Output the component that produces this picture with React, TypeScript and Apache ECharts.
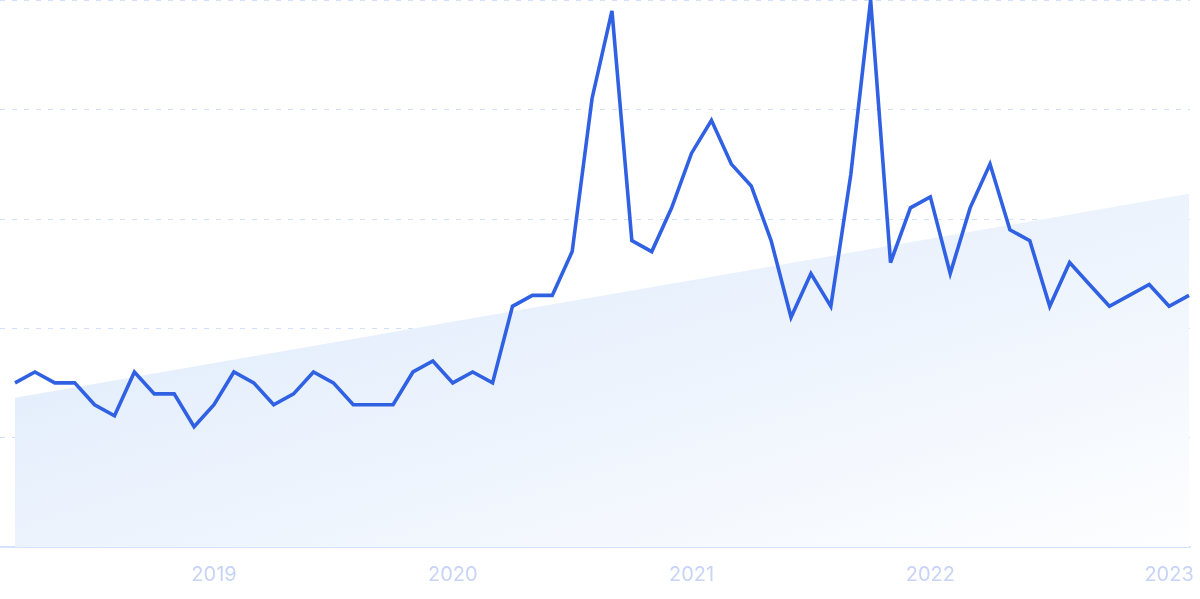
import React, { useEffect, useRef } from "react";
import * as echarts from "echarts";

const months: string[] = [
  "2018-03","2018-04","2018-05","2018-06","2018-07","2018-08","2018-09","2018-10","2018-11","2018-12",
  "2019-01","2019-02","2019-03","2019-04","2019-05","2019-06","2019-07","2019-08","2019-09","2019-10","2019-11","2019-12",
  "2020-01","2020-02","2020-03","2020-04","2020-05","2020-06","2020-07","2020-08","2020-09","2020-10","2020-11","2020-12",
  "2021-01","2021-02","2021-03","2021-04","2021-05","2021-06","2021-07","2021-08","2021-09","2021-10","2021-11","2021-12",
  "2022-01","2022-02","2022-03","2022-04","2022-05","2022-06","2022-07","2022-08","2022-09","2022-10","2022-11","2022-12",
  "2023-01","2023-02",
];

const values: number[] = [
  30, 32, 30, 30, 26, 24, 32, 28, 28, 22,
  26, 32, 30, 26, 28, 32, 30, 26, 26, 26, 32, 34,
  30, 32, 30, 44, 46, 46, 54, 82, 98, 56, 54, 62,
  72, 78, 70, 66, 56, 42, 50, 44, 68, 100, 52, 62,
  64, 50, 62, 70, 58, 56, 44, 52, 48, 44, 46, 48,
  44, 46,
];

const yTicks: number[] = [0, 20, 40, 60, 80, 100];

export default function App() {
  const ref = useRef<HTMLDivElement>(null);

  useEffect(() => {
    if (!ref.current) return;
    const chart = echarts.init(ref.current, null, { renderer: "svg" });

    const lineData = values.map((v, i) => [i, v]);

    // least-squares trend line from the data
    const n = values.length;
    const mx = (n - 1) / 2;
    const my = values.reduce((a, b) => a + b, 0) / n;
    let num = 0;
    let den = 0;
    values.forEach((v, i) => {
      num += (i - mx) * (v - my);
      den += (i - mx) * (i - mx);
    });
    const slope = num / den;
    const icpt = my - slope * mx;
    const trendData = [
      [0, icpt],
      [n - 1, icpt + slope * (n - 1)],
    ];

    const yearIdx: number[] = [];
    months.forEach((m, i) => {
      if (m.endsWith("-01")) yearIdx.push(i);
    });

    chart.setOption({
      animation: false,
      grid: { left: 0, right: 10, top: 0, bottom: 52, containLabel: false },
      xAxis: {
        type: "value",
        min: -0.754,
        max: 59.05,
        axisLine: { show: true, lineStyle: { color: "#d3e3fb", width: 2 } },
        axisTick: { show: false },
        splitLine: { show: false },
        axisLabel: {
          customValues: yearIdx,
          formatter: (v: number) => months[Math.round(v)]?.slice(0, 4) ?? "",
          color: "#c8d4f5",
          fontSize: 20,
          fontFamily: "Inter, 'Noto Sans', sans-serif",
          margin: 17,
          showMinLabel: true,
          showMaxLabel: true,
        },
      },
      yAxis: {
        type: "value",
        min: yTicks[0],
        max: yTicks[yTicks.length - 1],
        interval: 20,
        axisLine: { show: false },
        axisTick: { show: false },
        axisLabel: { show: false },
        splitLine: {
          show: true,
          lineStyle: { color: "#d0e0fa", width: 1, type: [5, 7] },
        },
      },
      series: [
        {
          type: "line",
          data: trendData,
          symbol: "none",
          lineStyle: { width: 0 },
          z: 1,
          areaStyle: {
            opacity: 1,
            color: new echarts.graphic.LinearGradient(0, 0, 1, 1, [
              { offset: 0, color: "#dbe8fb" },
              { offset: 1, color: "#fdfeff" },
            ]),
          },
          silent: true,
        },
        {
          type: "line",
          data: lineData,
          symbol: "none",
          z: 3,
          lineStyle: { color: "#3061e3", width: 3.6, join: "miter" },
        },
      ],
    });

    return () => chart.dispose();
  }, []);

  return (
    <div
      ref={ref}
      style={{ position: "fixed", left: 0, top: 0, width: 1200, height: 599 }}
    />
  );
}
